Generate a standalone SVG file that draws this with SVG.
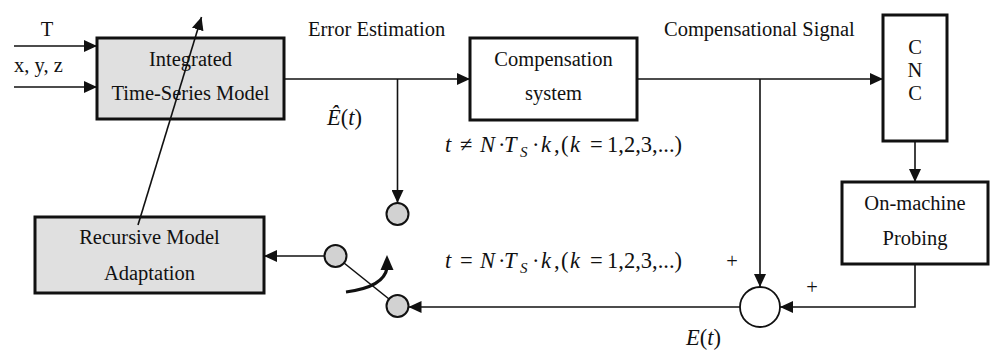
<svg xmlns="http://www.w3.org/2000/svg" width="990" height="350" viewBox="0 0 990 350">
<style>
text{font-family:"Liberation Serif","Times New Roman",serif;font-size:20.5px;fill:#111}
.it{font-style:italic}
.m{font-size:22.5px}
.sub{font-size:15px;font-style:italic}
.box{stroke:#111;stroke-width:3}
.g{fill:#e0e0e0}
.w{fill:#fff}
.ln{fill:none;stroke:#111;stroke-width:1.6}
.dot{fill:#d2d2d2;stroke:#111;stroke-width:2}
</style>
<defs>
<marker id="ah" markerUnits="userSpaceOnUse" markerWidth="13" markerHeight="12" refX="13" refY="6" orient="auto">
<path d="M0,0 L13,6 L0,12 z" fill="#111"/>
</marker>
</defs>
<g id="integrated">
<rect class="box g" x="97" y="38" width="187" height="81"/>
<text x="190.5" y="66" text-anchor="middle">Integrated</text>
<text x="190.5" y="100" text-anchor="middle">Time-Series Model</text>
</g>
<g id="compensation">
<rect class="box w" x="470" y="38" width="167" height="82"/>
<text x="553.5" y="66" text-anchor="middle">Compensation</text>
<text x="553.5" y="100" text-anchor="middle">system</text>
</g>
<g id="cnc">
<rect class="box w" x="883" y="15" width="64" height="126"/>
<text x="915" y="54" text-anchor="middle">C</text>
<text x="915" y="77" text-anchor="middle">N</text>
<text x="915" y="100" text-anchor="middle">C</text>
</g>
<g id="probing">
<rect class="box w" x="842" y="182" width="146" height="82"/>
<text x="915" y="210" text-anchor="middle">On-machine</text>
<text x="915" y="245" text-anchor="middle">Probing</text>
</g>
<g id="recursive">
<rect class="box g" x="35" y="217" width="229" height="76"/>
<text x="149.5" y="244" text-anchor="middle">Recursive Model</text>
<text x="149.5" y="280" text-anchor="middle">Adaptation</text>
</g>
<g id="sum">
<circle cx="760" cy="307" r="20" fill="#fff" stroke="#111" stroke-width="1.8"/>
</g>
<g id="switch">
<circle class="dot" cx="397.5" cy="214" r="11"/>
<circle class="dot" cx="335.5" cy="256" r="11"/>
<circle class="dot" cx="397.5" cy="306" r="11"/>
</g>
<g id="connectors">
<path class="ln" d="M14,46 H97" marker-end="url(#ah)"/>
<path class="ln" d="M14,87 H97" marker-end="url(#ah)"/>
<path class="ln" d="M284,79 H470" marker-end="url(#ah)"/>
<path class="ln" d="M637,79 H883" marker-end="url(#ah)"/>
<path class="ln" d="M397.5,79 V203" marker-end="url(#ah)"/>
<path class="ln" d="M760,79 V287" marker-end="url(#ah)"/>
<path class="ln" d="M915,141 V182" marker-end="url(#ah)"/>
<path class="ln" d="M915,264 V307 H780" marker-end="url(#ah)"/>
<path class="ln" d="M740,307 H408.5" marker-end="url(#ah)"/>
<path class="ln" d="M324.5,256 H264" marker-end="url(#ah)"/>
<path class="ln" d="M344,263 L389,299"/>
<path class="ln" d="M138,225 L201.5,17" marker-end="url(#ah)"/>
<path d="M346,292 Q384,287 387,268" fill="none" stroke="#111" stroke-width="3.2"/>
<path d="M380.5,270 L387,255 L393.5,270 z" fill="#111"/>
</g>
<g id="labels">
<text x="47" y="36" text-anchor="middle">T</text>
<text x="14" y="72">x, y, z</text>
<text x="308" y="36">Error Estimation</text>
<text x="664" y="36">Compensational Signal</text>
<text class="m" x="327" y="125"><tspan class="it">Ê</tspan>(<tspan class="it">t</tspan>)</text>
<text class="m" y="152"><tspan class="it" x="445">t</tspan><tspan x="460">≠</tspan><tspan class="it" x="480">N</tspan><tspan x="498">·</tspan><tspan class="it" x="504">T</tspan><tspan class="sub" x="520" dy="5">S</tspan><tspan x="532" dy="-5">·</tspan><tspan class="it" x="541">k</tspan><tspan x="554">,</tspan><tspan x="561">(</tspan><tspan class="it" x="570">k</tspan><tspan x="590">=</tspan><tspan x="607">1,2,3,...)</tspan></text>
<text class="m" y="268"><tspan class="it" x="445">t</tspan><tspan x="460">=</tspan><tspan class="it" x="480">N</tspan><tspan x="498">·</tspan><tspan class="it" x="504">T</tspan><tspan class="sub" x="520" dy="5">S</tspan><tspan x="532" dy="-5">·</tspan><tspan class="it" x="541">k</tspan><tspan x="554">,</tspan><tspan x="561">(</tspan><tspan class="it" x="570">k</tspan><tspan x="590">=</tspan><tspan x="607">1,2,3,...)</tspan></text>
<text x="732" y="268" text-anchor="middle">+</text>
<text x="812" y="294" text-anchor="middle">+</text>
<text class="m" x="686" y="345"><tspan class="it">E</tspan>(<tspan class="it">t</tspan>)</text>
</g>
</svg>
